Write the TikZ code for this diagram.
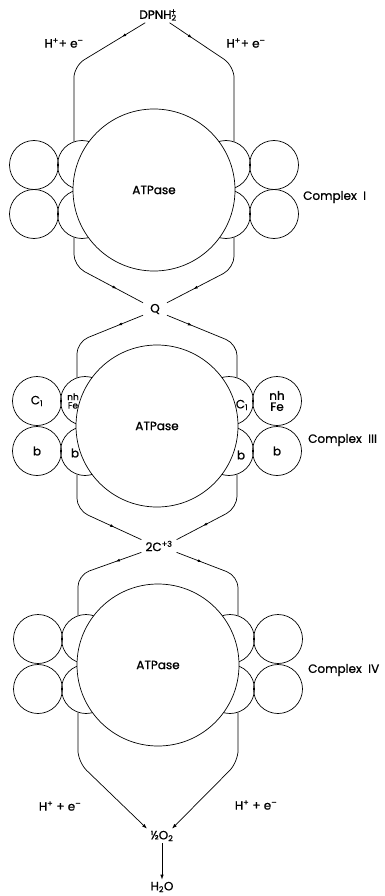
\documentclass[tikz,border=0pt]{standalone}
\usepackage{fontspec}
\setmainfont{Poppins}[FakeBold=0.9]
\usetikzlibrary{arrows.meta,decorations.markings}

\tikzset{
  sub/.style={circle, draw, line width=0.7pt, minimum size=49pt, inner sep=0pt,
    align=center, font=\fontsize{12}{11}\selectfont},
  atp/.style={circle, draw, fill=white, line width=0.7pt, minimum size=162pt,
    inner sep=0pt, font=\fontsize{12}{12}\selectfont},
  chem/.style={inner sep=2pt, font=\fontsize{12}{12}\selectfont},
  tag/.style={inner sep=0pt, align=center, font=\fontsize{12}{11}\selectfont},
  link/.style={line width=0.7pt, rounded corners=12pt},
  outflow/.style={link, postaction={decorate}, decoration={markings,
    mark=at position 27pt with {\arrow{Latex[length=4pt,width=3pt]}}}},
  inflow/.style={link, postaction={decorate}, decoration={markings,
    mark=at position -30pt with {\arrow{Latex[length=4pt,width=3pt]}}}},
}

\begin{document}
\begin{tikzpicture}[x=1pt, y=-1pt]
	\useasboundingbox (0,0) rectangle (385,896);

	% carriers between the complexes
	\node[chem] (dpnh) at (158,15) {DPNH\textsubscript{2}\llap{\textsuperscript{+}}};
	\node[chem, inner xsep=7pt, inner ysep=1pt] (q) at (155,309) {Q};
	\node[chem, inner xsep=4pt, inner ysep=1pt] (cyt) at (159,546) {2C\textsuperscript{+3}};
	\node[chem] (o2) at (162,836) {½O\textsubscript{2}};
	\node[chem] (h2o) at (162,887) {H\textsubscript{2}O};
	\node[chem] (hel1) at (64,43) {H\textsuperscript{+}+ e\textsuperscript{--}};
	\node[chem] (her1) at (246,43) {H\textsuperscript{+}+ e\textsuperscript{--}};
	\node[chem] (hel2) at (60,806) {H\textsuperscript{+} + e\textsuperscript{--}};
	\node[chem] (her2) at (256,805) {H\textsuperscript{+} + e\textsuperscript{--}};

	% Complex I
	\node[sub] (Ilot) at (34,165) {};
	\node[sub] (Ilob) at (34,214) {};
	\node[sub] (Ilit) at (82,165) {};
	\node[sub] (Ilib) at (82,214) {};
	\node[sub] (Irit) at (226,165) {};
	\node[sub] (Irib) at (226,214) {};
	\node[sub] (Irot) at (274,165) {};
	\node[sub] (Irob) at (274,214) {};
	\node[atp] (Iatp) at (154,190) {ATPase};
	\node[chem, anchor=west] (Iname) at (301,197) {Complex\ \ I};

	% Complex III
	\node[sub] (IIIlot) at (37,401) {C\textsubscript{1}};
	\node[sub] (IIIlob) at (37,451) {b};
	\node[sub] (IIIlit) at (85,401) {};
	\node[sub] (IIIlib) at (85,451) {};
	\node[sub] (IIIrit) at (229,401) {};
	\node[sub] (IIIrib) at (229,451) {};
	\node[sub] (IIIrot) at (277,401) {nh\\Fe};
	\node[sub] (IIIrob) at (277,451) {b};
	\node[atp] (IIIatp) at (157,426) {ATPase};
	\node[tag, font=\fontsize{9}{8.5}\selectfont] (IIInhfe) at (73,401) {nh\\Fe};
	\node[tag] (IIIb) at (75,453) {b};
	\node[tag] (IIIc) at (242,405) {C\textsubscript{1}};
	\node[tag] (IIIbb) at (241,455) {b};
	\node[chem, anchor=west] (IIIname) at (306,440) {Complex\ \ III};

	% Complex IV
	\node[sub] (IVlot) at (38,639) {};
	\node[sub] (IVlob) at (38,689) {};
	\node[sub] (IVlit) at (86,639) {};
	\node[sub] (IVlib) at (86,689) {};
	\node[sub] (IVrit) at (230,639) {};
	\node[sub] (IVrib) at (230,689) {};
	\node[sub] (IVrot) at (278,639) {};
	\node[sub] (IVrob) at (278,689) {};
	\node[atp] (IVatp) at (158,665) {ATPase};
	\node[chem, anchor=west] (IVname) at (306,670) {Complex\ \ IV};

	% electron paths
	\draw[outflow] (dpnh) -- (Ilit.109 |- 0,66) -- (Ilit.109);
	\draw[outflow] (dpnh) -- (Irit.71 |- 0,66) -- (Irit.71);
	\draw[inflow] (Ilib.251) -- (Ilib.251 |- 0,266) -- (q.north west);
	\draw[inflow] (Irib.289) -- (Irib.289 |- 0,268) -- (q.north east);
	\draw[outflow] (q.south west) -- (IIIlit.109 |- 0,342) -- (IIIlit.109);
	\draw[outflow] (q.south east) -- (IIIrit.71 |- 0,344) -- (IIIrit.71);
	\draw[inflow] (IIIlib.251) -- (IIIlib.251 |- 0,510) -- (cyt.north west);
	\draw[inflow] (IIIrib.289) -- (IIIrib.289 |- 0,508) -- (cyt.north east);
	\draw[outflow] (cyt.south west) -- (IVlit.109 |- 0,575) -- (IVlit.109);
	\draw[outflow] (cyt.south east) -- (IVrit.71 |- 0,576) -- (IVrit.71);
	\draw[link, -{Latex[length=5pt,width=3.5pt]}] (IVlib.251) -- (IVlib.251 |- 0,762) -- ([xshift=-15pt]o2.north);
	\draw[link, -{Latex[length=5pt,width=3.5pt]}] (IVrib.289) -- (IVrib.289 |- 0,762) -- ([xshift=10pt]o2.north);
	\draw[line width=0.7pt, -{Latex[length=5pt,width=3.5pt]}] (o2) -- (h2o);
\end{tikzpicture}
\end{document}
